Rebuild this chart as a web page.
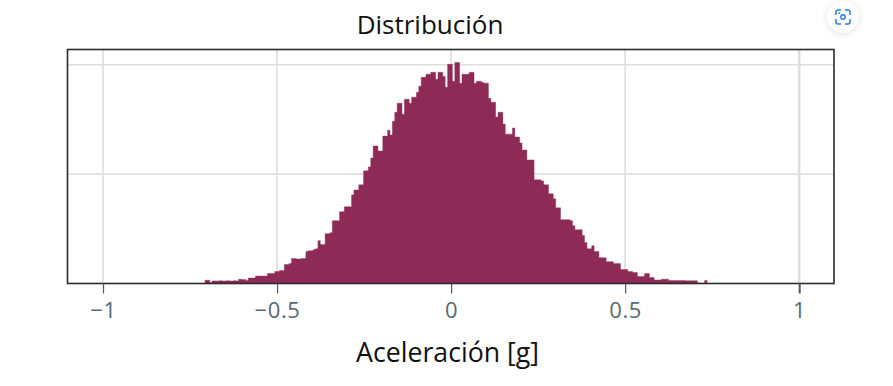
<!DOCTYPE html>
<html>
<head>
<meta charset="utf-8">
<script src="https://cdn.jsdelivr.net/npm/d3@7"></script>
<style>
    html, body { margin: 0; padding: 0; background: #fff; }
    svg { display: block; }
</style>
</head>
<body>
<div id="chart"></div>
<script>
// Histogram counts
const binStart = -0.7069;
const binWidth = 0.0069;
const counts = [
    15, 15, 5, 12, 12, 12, 13, 12, 12, 13, 12, 12, 13, 12, 20, 18, 18, 14, 25, 25, 25,
    34, 34, 34, 34, 34, 46, 46, 46, 55, 55, 59, 59, 87, 87, 91, 114, 114, 112, 112, 114, 114,
    146, 150, 150, 155, 159, 196, 178, 178, 228, 228, 232, 287, 287, 287, 328, 328, 351, 351, 351,
    405, 428, 428, 451, 451, 515, 515, 533, 574, 629, 629, 606, 606, 674, 674, 701, 679, 742, 783,
    824, 824, 774, 843, 843, 824, 852, 852, 875, 902, 943, 943, 957, 957, 966, 966, 934, 966, 966,
    947, 897, 1002, 1002, 925, 1011, 1011, 916, 957, 957, 957, 966, 966, 916, 925, 925, 920, 916, 916,
    847, 829, 829, 761, 783, 783, 729, 683, 683, 683, 711, 670, 670, 642, 610, 610, 565, 565, 565,
    474, 474, 474, 469, 451, 451, 410, 410, 387, 346, 346, 292, 292, 292, 292, 287, 264, 246, 246, 246,
    219, 187, 159, 159, 173, 146, 146, 118, 118, 118, 100, 100, 100, 91, 91, 91, 64, 64, 64,
    55, 55, 50, 50, 32, 32, 32, 46, 46, 27, 27, 16, 16, 16, 20, 20, 20,
    14, 14, 14, 14, 14, 14, 14, 13, 13, 13, 13, 13, 2, 2, 0, 14
];
const xTicks = [-1, -0.5, 0, 0.5, 1];
const yGrid = [500, 1000];
const titleText = "Distribución";
const xLabelText = "Aceleración [g]";

const width = 893;
const height = 386;
const marginTop = 49.5;
const marginRight = 59;
const marginBottom = 102.5;
const marginLeft = 67.5;

const barColor = "#8e2a56";
const gridColor = "#dedede";
const frameColor = "#2b2b2b";
const tickTextColor = "#566a74";

const svg = d3
    .select("#chart")
    .append("svg")
    .attr("width", width)
    .attr("height", height)
    .attr("viewBox", `0 0 ${width} ${height}`);

const x = d3
    .scaleLinear()
    .domain([-1.102, 1.1])
    .range([marginLeft, width - marginRight]);

const y = d3
    .scaleLinear()
    .domain([0, 1070])
    .range([height - marginBottom, marginTop]);

// Grid
svg.append("g")
    .selectAll("line")
    .data(xTicks)
    .join("line")
    .attr("x1", (d) => x(d))
    .attr("x2", (d) => x(d))
    .attr("y1", marginTop)
    .attr("y2", height - marginBottom)
    .attr("stroke", gridColor)
    .attr("stroke-width", (d) => (d === 1 ? 2.5 : 1.6));

svg.append("g")
    .selectAll("line")
    .data(yGrid)
    .join("line")
    .attr("x1", marginLeft)
    .attr("x2", width - marginRight)
    .attr("y1", (d) => y(d))
    .attr("y2", (d) => y(d))
    .attr("stroke", gridColor)
    .attr("stroke-width", 1.6);

// Histogram as one stepped shape
const area = d3
    .area()
    .curve(d3.curveStepAfter)
    .x((d, i) => x(binStart + i * binWidth))
    .y0(y(0))
    .y1((d) => y(d));

svg.append("path")
    .datum(counts.concat([0]))
    .attr("fill", barColor)
    .attr("stroke", barColor)
    .attr("stroke-width", 0.4)
    .attr("d", area);

// Frame
svg.append("rect")
    .attr("x", marginLeft)
    .attr("y", marginTop)
    .attr("width", width - marginLeft - marginRight)
    .attr("height", height - marginTop - marginBottom)
    .attr("fill", "none")
    .attr("stroke", frameColor)
    .attr("stroke-width", 1.6);

// X axis
const xAxis = svg
    .append("g")
    .attr("transform", `translate(0,${height - marginBottom})`)
    .call(
        d3
            .axisBottom(x)
            .tickValues(xTicks)
            .tickSize(10)
            .tickPadding(9)
            .tickFormat((d) => String(d).replace("-", "\u2212"))
    );

xAxis.select(".domain").remove();
xAxis.selectAll("line").attr("stroke", "#555").attr("stroke-width", (d) => (d === 1 ? 2 : 1.2));
xAxis
    .selectAll("text")
    .attr("fill", tickTextColor)
    .style("font-family", "'Open Sans', sans-serif")
    .style("font-size", "22px")
    .style("letter-spacing", "0.6px");

// Titles
svg.append("text")
    .attr("x", 430)
    .attr("y", 34)
    .attr("text-anchor", "middle")
    .attr("fill", "#111")
    .style("font-family", "'Open Sans', sans-serif")
    .style("font-size", "26px")
    .text(titleText);

svg.append("text")
    .attr("x", 447.5)
    .attr("y", 362)
    .attr("text-anchor", "middle")
    .attr("fill", "#111")
    .style("font-family", "'Open Sans', sans-serif")
    .style("font-size", "26.7px")
    .text(xLabelText);

// Lens button from the screenshot, top right corner
const lens = svg.append("g").attr("transform", "translate(843,17)");
lens.append("circle")
    .attr("r", 16)
    .attr("fill", "#fff")
    .style("filter", "drop-shadow(0 1px 3px rgba(0,0,0,0.12))");
lens.append("path")
    .attr("d", "M-7,-2V-5Q-7,-7 -5,-7H-2M2,-7H5Q7,-7 7,-5V-2M7,2V5Q7,7 5,7H2M-2,7H-5Q-7,7 -7,5V2")
    .attr("fill", "none")
    .attr("stroke", "#2a7bd6")
    .attr("stroke-width", 1.5);
lens.append("circle")
    .attr("r", 2.2)
    .attr("fill", "none")
    .attr("stroke", "#2a7bd6")
    .attr("stroke-width", 1.4);
lens.append("circle").attr("cx", -3.8).attr("cy", -3.8).attr("r", 0.9).attr("fill", "#2a7bd6");
</script>
</body>
</html>
